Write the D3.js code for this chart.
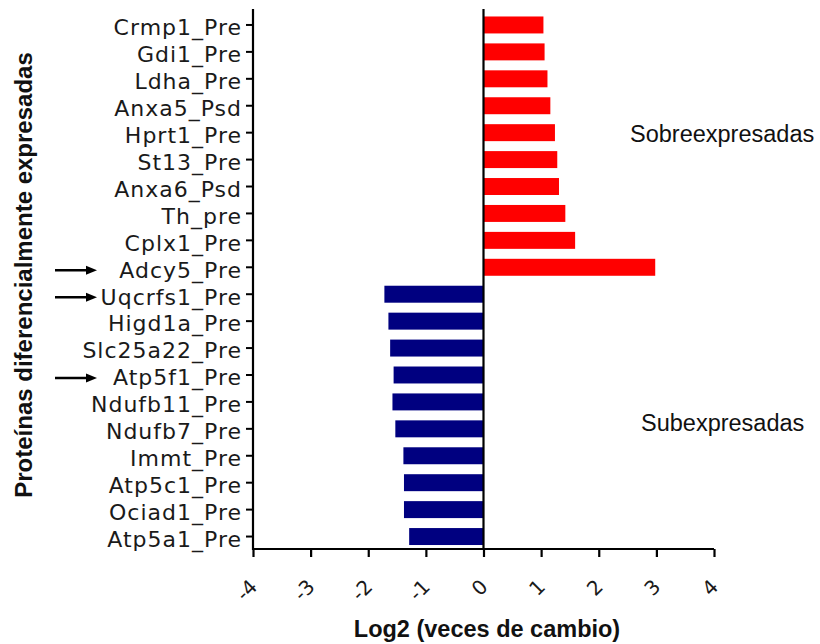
<!DOCTYPE html>
<html>
<head>
<meta charset="utf-8">
<script src="https://cdn.jsdelivr.net/npm/d3@7"></script>
<style>
  html, body { margin: 0; padding: 0; background: #fff; }
  svg { display: block; }
</style>
</head>
<body>
<svg id="chart" width="820" height="644"></svg>
<script>
// Proteins, top to bottom
const proteins = [
  "Crmp1_Pre", "Gdi1_Pre", "Ldha_Pre", "Anxa5_Psd", "Hprt1_Pre",
  "St13_Pre", "Anxa6_Psd", "Th_pre", "Cplx1_Pre", "Adcy5_Pre",
  "Uqcrfs1_Pre", "Higd1a_Pre", "Slc25a22_Pre", "Atp5f1_Pre", "Ndufb11_Pre",
  "Ndufb7_Pre", "Immt_Pre", "Atp5c1_Pre", "Ociad1_Pre", "Atp5a1_Pre"
];
// log2 fold change for each protein
const log2Change = [
  1.04, 1.06, 1.11, 1.16, 1.24,
  1.28, 1.31, 1.42, 1.59, 2.98,
  -1.72, -1.65, -1.62, -1.56, -1.58,
  -1.53, -1.39, -1.38, -1.38, -1.29
];
// proteins flagged with an arrow
const highlighted = ["Adcy5_Pre", "Uqcrfs1_Pre", "Atp5f1_Pre"];
const xTicks = [-4, -3, -2, -1, 0, 1, 2, 3, 4];
const xTitle = "Log2 (veces de cambio)";
const yTitle = "Proteínas diferencialmente expresadas";
const upLabel = "Sobreexpresadas";
const downLabel = "Subexpresadas";

const data = proteins.map((p, i) => ({ name: p, value: log2Change[i] }));

const svg = d3.select("#chart");

const x = d3.scaleLinear().domain([-4, 4]).range([253, 714]);
const y = d3.scaleBand().domain(proteins).range([11.5, 550])
  .paddingInner(0.37).paddingOuter(0.185);

const axisTop = 9, axisBottom = 549;

// bars
svg.append("g").selectAll("rect").data(data).join("rect")
  .attr("x", d => x(Math.min(0, d.value)))
  .attr("y", d => y(d.name))
  .attr("width", d => Math.abs(x(d.value) - x(0)))
  .attr("height", y.bandwidth())
  .attr("fill", d => d.value >= 0 ? "#ff0000" : "#000080");

// zero line
svg.append("line")
  .attr("x1", x(0)).attr("x2", x(0))
  .attr("y1", axisTop).attr("y2", axisBottom)
  .attr("stroke", "#000").attr("stroke-width", 2.2);

// left axis with protein labels
const yAxis = svg.append("g")
  .attr("transform", `translate(${x(-4)},0)`)
  .call(d3.axisLeft(y).tickSize(7).tickPadding(4));
yAxis.select(".domain").remove();
yAxis.selectAll(".tick line").attr("stroke", "#000").attr("stroke-width", 2);
yAxis.selectAll(".tick text")
  .attr("font-family", "'DejaVu Sans', Verdana, sans-serif")
  .attr("font-size", 22)
  .attr("letter-spacing", "1px")
  .attr("fill", "#1a1a1a")
  .attr("dy", "0.47em");
svg.append("line")
  .attr("x1", x(-4)).attr("x2", x(-4))
  .attr("y1", axisTop).attr("y2", axisBottom + 1)
  .attr("stroke", "#000").attr("stroke-width", 2.2);

// bottom axis
const xAxis = svg.append("g")
  .attr("transform", `translate(0,${axisBottom})`)
  .call(d3.axisBottom(x).tickValues(xTicks).tickSize(8).tickFormat(d => String(d)));
xAxis.select(".domain").attr("stroke", "#000").attr("stroke-width", 2.2)
  .attr("d", `M${x(-4)},0H${x(4)}`);
xAxis.selectAll(".tick line").attr("stroke", "#000").attr("stroke-width", 2.2);
xAxis.selectAll(".tick text")
  .attr("font-family", "'DejaVu Sans', Verdana, sans-serif")
  .attr("font-size", 20)
  .attr("fill", "#1a1a1a")
  .attr("text-anchor", "end")
  .attr("dy", null)
  .attr("y", 0)
  .attr("transform", "translate(5,39) rotate(-45)");

// axis titles
svg.append("text")
  .attr("x", 487).attr("y", 637)
  .attr("text-anchor", "middle")
  .attr("font-family", "'Liberation Sans', Arial, sans-serif")
  .attr("font-weight", "bold")
  .attr("font-size", 23.5)
  .attr("fill", "#111")
  .text(xTitle);

svg.append("text")
  .attr("transform", "translate(32,275) rotate(-90)")
  .attr("text-anchor", "middle")
  .attr("font-family", "'Liberation Sans', Arial, sans-serif")
  .attr("font-weight", "bold")
  .attr("font-size", 24)
  .attr("fill", "#111")
  .text(yTitle);

// group labels
svg.append("text")
  .attr("x", 630).attr("y", 142)
  .attr("font-family", "'Liberation Sans', Arial, sans-serif")
  .attr("font-size", 23.5)
  .attr("fill", "#111")
  .text(upLabel);
svg.append("text")
  .attr("x", 641).attr("y", 431)
  .attr("font-family", "'Liberation Sans', Arial, sans-serif")
  .attr("font-size", 23.5)
  .attr("fill", "#111")
  .text(downLabel);

// arrows pointing at highlighted proteins
const arrows = svg.append("g");
highlighted.forEach(name => {
  const cy = y(name) + y.bandwidth() / 2 + 3;
  arrows.append("line")
    .attr("x1", 55).attr("x2", 88)
    .attr("y1", cy).attr("y2", cy)
    .attr("stroke", "#000").attr("stroke-width", 2.5);
  arrows.append("path")
    .attr("d", `M97,${cy}L86,${cy - 4.5}L86,${cy + 4.5}Z`)
    .attr("fill", "#000");
});
</script>
</body>
</html>
